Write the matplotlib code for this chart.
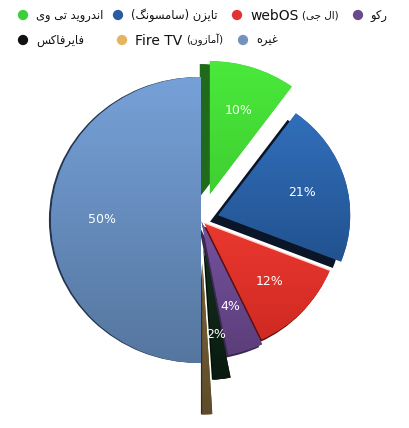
import matplotlib
matplotlib.use("Agg")
import matplotlib.pyplot as plt
from matplotlib.colors import LinearSegmentedColormap
import numpy as np
import re

# ---------------- data ----------------
labels = ["اندروید تی وی", "تایزن (سامسونگ)", "webOS (ال جی)", "رکو",
          "فایرفاکس", "Fire TV (آمازون)", "غیره"]
shares = [10, 21, 12, 4, 2, 1, 50]
legend_colors = ["#3ccf3c", "#2a5ba0", "#e23232", "#6a4a8c", "#111111", "#e6b35f", "#7393bd"]
top_colors = ["#4ae93b", "#316fbb", "#ea3830", "#7652a0", "#13301e", "#7a6438", "#76a1d8"]
bottom_colors = ["#3fcf31", "#22528f", "#d02a22", "#5c3e7a", "#0a1a10", "#5e4c2a", "#55769f"]
side_colors = ["#1f6b1b", "#0a1628", "#5a120f", "#3a2850", "#061008", "#3a2e18", "#24364f"]

# ---------------- simple Arabic/Persian shaping for display ----------------
FORMS = {
    '\u0627': ('\uFE8D', '\uFE8E', None, None),
    '\u0622': ('\uFE81', '\uFE82', None, None),
    '\u062F': ('\uFEA9', '\uFEAA', None, None),
    '\u0631': ('\uFEAD', '\uFEAE', None, None),
    '\u0632': ('\uFEAF', '\uFEB0', None, None),
    '\u0648': ('\uFEED', '\uFEEE', None, None),
    '\u0646': ('\uFEE5', '\uFEE6', '\uFEE7', '\uFEE8'),
    '\u062A': ('\uFE95', '\uFE96', '\uFE97', '\uFE98'),
    '\u0633': ('\uFEB1', '\uFEB2', '\uFEB3', '\uFEB4'),
    '\u0645': ('\uFEE1', '\uFEE2', '\uFEE3', '\uFEE4'),
    '\u0644': ('\uFEDD', '\uFEDE', '\uFEDF', '\uFEE0'),
    '\u062C': ('\uFE9D', '\uFE9E', '\uFE9F', '\uFEA0'),
    '\u0641': ('\uFED1', '\uFED2', '\uFED3', '\uFED4'),
    '\u063A': ('\uFECD', '\uFECE', '\uFECF', '\uFED0'),
    '\u0647': ('\uFEE9', '\uFEEA', '\uFEEB', '\uFEEC'),
    '\u06CC': ('\uFBFC', '\uFBFD', '\uFBFE', '\uFBFF'),
    '\u06A9': ('\uFB8E', '\uFB8F', '\uFB90', '\uFB91'),
    '\u06AF': ('\uFB92', '\uFB93', '\uFB94', '\uFB95'),
}


def shape(s):
    out = []
    for i, c in enumerate(s):
        if c not in FORMS:
            out.append(c)
            continue
        prev = s[i - 1] if i > 0 else ''
        nxt = s[i + 1] if i + 1 < len(s) else ''
        jp = prev in FORMS and FORMS[prev][2] is not None
        jn = nxt in FORMS and FORMS[c][2] is not None
        f = FORMS[c]
        if jp and jn:
            out.append(f[3])
        elif jp:
            out.append(f[1])
        elif jn:
            out.append(f[2])
        else:
            out.append(f[0])
    return out


def rtl(s):
    mirror = {'(': ')', ')': '('}
    return ''.join(mirror.get(c, c) for c in shape(s)[::-1])


def split_label(label):
    m = re.match(r'^([A-Za-z ]*)(.*)$', label)
    return m.group(1).strip(), m.group(2).strip()


# ---------------- figure ----------------
W, H = 409, 428
fig = plt.figure(figsize=(W / 100, H / 100), dpi=100)
ax = fig.add_axes([0, 0, 1, 1])

sx, sy = 150.0, 143.0        # px per data unit
cx, cy = 201.0, 220.0        # pie centre in px (from top-left)

explode = [0.19, 0.12, 0.03, 0.01, 0.20, 0.30, 0.0]
radii = [0.93, 0.88, 0.90, 0.95, 0.92, 1.06, 1.0]
shifts = [(-0.067, -0.02), (-0.055, -0.045), (-0.015, -0.02), (-0.02, -0.02),
          (-0.01, 0.0), (-0.01, 0.0), (-0.014, 0.0)]

sh_w, _ = ax.pie(shares, colors=side_colors, startangle=90, counterclock=False,
                 explode=explode, radius=1.0, wedgeprops=dict(linewidth=0))
for w, r, (dx, dy) in zip(sh_w, radii, shifts):
    c = w.center
    w.set_center((c[0] + dx, c[1] + dy))
    w.set_radius(r)
    w.set_zorder(1)

wedges, _, autot = ax.pie(shares, colors=bottom_colors, startangle=90, counterclock=False,
                          explode=explode, radius=1.0, wedgeprops=dict(linewidth=0),
                          autopct=lambda p: f"{p:.0f}%" if p >= 1.5 else "",
                          textprops=dict(color="white", fontsize=9))
pd = 0.66
grad = np.linspace(0, 1, 256).reshape(-1, 1)
for w, r, t, ct, cb in zip(wedges, radii, autot, top_colors, bottom_colors):
    w.set_radius(r)
    w.set_zorder(2)
    mid = np.deg2rad((w.theta1 + w.theta2) / 2)
    c = w.center
    t.set_position((c[0] + pd * r * np.cos(mid), c[1] + pd * r * np.sin(mid)))
    t.set_zorder(5)
    # vertical light-to-dark shading clipped to the wedge
    bb = w.get_path().get_extents()
    cmap = LinearSegmentedColormap.from_list("g", [cb, ct])
    im = ax.imshow(grad, extent=(bb.x0, bb.x1, bb.y0, bb.y1), origin='lower',
                   cmap=cmap, aspect='auto', zorder=3, interpolation='bilinear')
    im.set_clip_path(w)

# thin highlight on the upper edge of the red slice
rw = wedges[2]
a = np.deg2rad(rw.theta2)
rc = rw.center
ax.plot([rc[0], rc[0] + rw.r * np.cos(a)], [rc[1], rc[1] + rw.r * np.sin(a)],
        color="#ffd9d0", lw=0.9, zorder=4, solid_capstyle='butt')

ax.set_aspect('auto')
ax.set_xlim(-cx / sx, (W - cx) / sx)
ax.set_ylim(-(H - cy) / sy, cy / sy)
ax.axis('off')

# ---------------- legend ----------------
lg = fig.add_axes([0, 0, 1, 1], facecolor='none')
lg.set_xlim(0, W)
lg.set_ylim(H, 0)
lg.axis('off')
mark_x = [23, 118, 237, 358, 23, 122, 243]
mark_y = [15, 15, 15, 15, 40, 40, 40]
renderer = fig.canvas.get_renderer()
for lab, col, mx, my in zip(labels, legend_colors, mark_x, mark_y):
    lg.scatter([mx], [my], s=55, color=col, edgecolors='none')
    latin, arab = split_label(lab)
    x = mx + 13
    if latin:
        t1 = lg.text(x, my + 0.5, latin, fontsize=10, va='center', ha='left',
                     color="#111111")
        bb = t1.get_window_extent(renderer)
        x = bb.x1 + 4
        lg.text(x, my, rtl(arab), fontsize=7.5, va='center', ha='left', color="#111111")
    else:
        lg.text(x, my, rtl(arab), fontsize=8.3, va='center', ha='left', color="#111111")

fig.savefig("out.png", dpi=100, facecolor="white")
